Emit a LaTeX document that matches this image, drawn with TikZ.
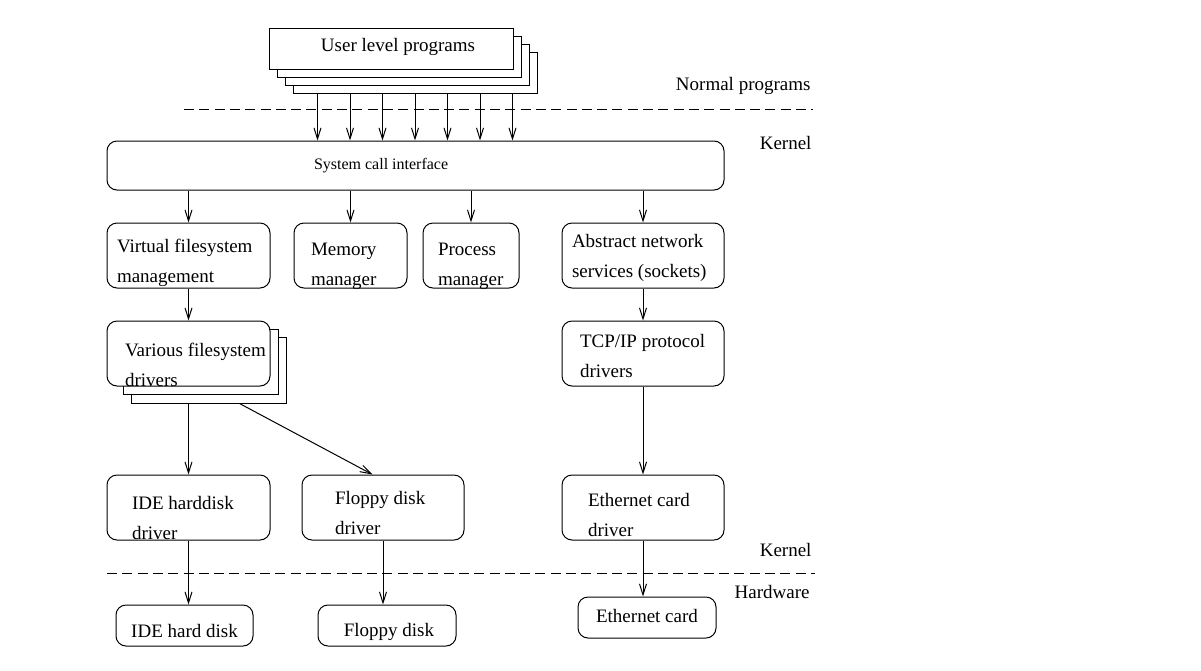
\documentclass[tikz,border=0pt]{standalone}
\usepackage{fontspec}
\setmainfont{Liberation Serif}
\usetikzlibrary{arrows.meta}

\tikzset{
  box/.style={draw, rounded corners=10pt, minimum height=65pt, inner sep=0pt},
  sheet/.style={draw, fill=white, inner sep=0pt},
  txt/.style={anchor=west, align=left, inner sep=0pt},
  layerline/.style={dash pattern=on 10pt off 5.3pt}
}

\begin{document}
\begin{tikzpicture}[x=1pt, y=-1pt, line width=1pt, font=\fontsize{19}{30}\selectfont,
    >={Straight Barb[length=11pt, width=7pt]}]
    \useasboundingbox (0,0) rectangle (1201,670);

    \foreach \d [count=\i] in {24,16,8}
        \node[sheet, minimum width=244pt, minimum height=41pt] (user\i) at (391+\d, 48.5+\d) {};
    \node[sheet, minimum width=244pt, minimum height=41pt] (user) at (391,48.5) {};
    \node[txt, anchor=center] (user-t) at ([xshift=7pt, yshift=2pt]user.center) {User level programs};

    \node[box, minimum width=617pt, minimum height=49pt] (sys) at (415.5,165.5) {};
    \node[txt, font=\fontsize{16}{20}\selectfont] (sys-t) at ([xshift=207pt]sys.west) {System call interface};
    \foreach \k in {0,...,6}
        \draw[->] ([xshift={25pt+32.5pt*\k}]user1.south west) coordinate (in\k) -- (in\k |- sys.north);

    \node[box, minimum width=163pt] (vfs) at (188.5,255.5) {};
    \node[box, minimum width=113pt] (mem) at (350.5,255.5) {};
    \node[box, minimum width=96pt] (proc) at (471,255.5) {};
    \node[box, minimum width=162pt] (net) at (643,255.5) {};
    \node[txt] (vfs-t) at ([xshift=10pt, yshift=-7pt]vfs.west) {Virtual filesystem\\management};
    \node[txt] (mem-t) at ([xshift=17pt, yshift=-11pt]mem.west) {Memory\\manager};
    \node[txt] (proc-t) at ([xshift=15pt, yshift=-11pt]proc.west) {Process\\manager};
    \node[txt] (net-t) at ([xshift=10pt, yshift=-2pt]net.west) {Abstract network\\services (sockets)};
    \foreach \m in {vfs, mem, proc, net}
        \draw[->] (sys.south -| \m.north) -- (\m.north);

    \node[sheet, minimum width=155pt, minimum height=66pt] (drv2) at (208.5,370) {};
    \node[sheet, minimum width=155pt, minimum height=65pt] (drv1) at (200.5,361.5) {};
    \node[box, fill=white, minimum width=163pt] (drv) at (188.5,353.5) {};
    \node[txt] (drv-t) at ([xshift=18pt, yshift=-11pt]drv.west) {Various filesystem\\drivers};
    \node[box, minimum width=162pt] (tcp) at (643,353.5) {};
    \node[txt] (tcp-t) at ([xshift=18pt, yshift=-2pt]tcp.west) {TCP/IP protocol\\drivers};
    \draw[->] (vfs.south) -- (drv.north);
    \draw[->] (net.south) -- (tcp.north);

    \node[box, minimum width=163pt] (ided) at (188.5,507.5) {};
    \node[box, minimum width=162pt] (fdd) at (383,507.5) {};
    \node[box, minimum width=162pt] (ethd) at (643,507.5) {};
    \node[txt] (ided-t) at ([xshift=25pt, yshift=-10pt]ided.west) {IDE harddisk\\driver};
    \node[txt] (fdd-t) at ([xshift=33pt, yshift=-5pt]fdd.west) {Floppy disk\\driver};
    \node[txt] (ethd-t) at ([xshift=26pt, yshift=-7pt]ethd.west) {Ethernet card\\driver};
    \draw[->] (drv2.south -| ided.north) -- (ided.north);
    \draw[->] ([xshift=109pt]drv2.south west) -- ([xshift=71pt]fdd.north west);
    \draw[->] (tcp.south) -- (ethd.north);

    \node[box, minimum width=137pt, minimum height=41pt] (ide) at (184.5,625.5) {};
    \node[box, minimum width=138pt, minimum height=41pt] (fd) at (387,625.5) {};
    \node[box, minimum width=138pt, minimum height=41pt] (eth) at (647,617.5) {};
    \node[txt, anchor=center] (ide-t) at ([yshift=-5pt]ide.center) {IDE hard disk};
    \node[txt, anchor=center] (fd-t) at ([xshift=2pt, yshift=-6pt]fd.center) {Floppy disk};
    \node[txt, anchor=center] (eth-t) at ([yshift=2pt]eth.center) {Ethernet card};
    \draw[->] (ided.south) -- (ided.south |- ide.north);
    \draw[->] (fdd.south) -- (fdd.south |- fd.north);
    \draw[->] (ethd.south) -- (ethd.south |- eth.north);

    \draw[layerline] (184,109) -- (813,109);
    \draw[layerline] (107,573) -- (815,573);
    \node[txt, anchor=east] (normal) at (811,86) {Normal programs};
    \node[txt, anchor=east] (kernel1) at (812,143) {Kernel};
    \node[txt, anchor=east] (kernel2) at (812,550) {Kernel};
    \node[txt, anchor=east] (hardware) at (810,592) {Hardware};
\end{tikzpicture}
\end{document}
